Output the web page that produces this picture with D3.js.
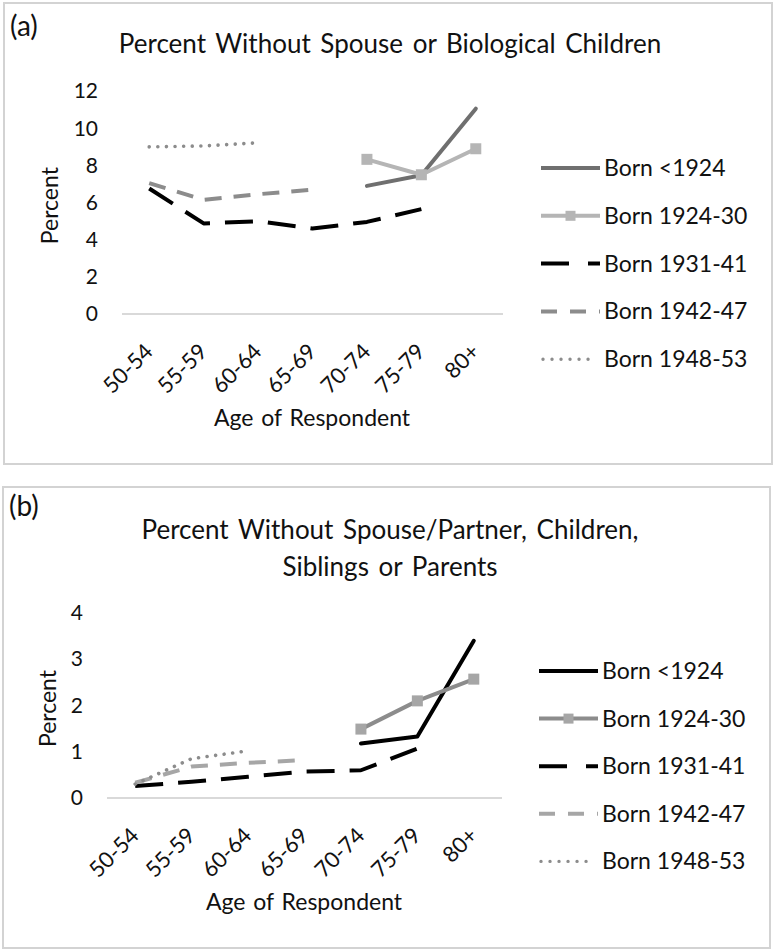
<!DOCTYPE html>
<html>
<head>
<meta charset="utf-8">
<script src="https://cdn.jsdelivr.net/npm/d3@7/dist/d3.min.js"></script>
<style>
  html, body { margin: 0; padding: 0; background: #fff; }
  svg { display: block; }
  text { font-family: Lato, "Open Sans", sans-serif; fill: #111; }
</style>
</head>
<body>
<svg id="chart" width="776" height="951"></svg>
<script>
// ---------- DATA ----------
const ageGroups = ["50-54", "55-59", "60-64", "65-69", "70-74", "75-79", "80+"];
const cohortNames = ["Born <1924", "Born 1924-30", "Born 1931-41", "Born 1942-47", "Born 1948-53"];

const ticksA = [0, 2, 4, 6, 8, 10, 12];
const ticksB = [0, 1, 2, 3, 4];

// Panel (a): Percent without spouse or biological children
const aBornPre1924 = [null, null, null, null, 6.9, 7.47, 11.06];
const aBorn1924_30 = [null, null, null, null, 8.33, 7.5, 8.9];
const aBorn1931_41 = [6.76, 4.88, 5.0, 4.6, 4.96, 5.65, null];
const aBorn1942_47 = [7.05, 6.15, 6.45, 6.7, null, null, null];
const aBorn1948_53 = [9.0, 9.05, 9.22, null, null, null, null];

// Panel (b): Percent without spouse/partner, children, siblings or parents
const bBornPre1924 = [null, null, null, null, 1.18, 1.33, 3.4];
const bBorn1924_30 = [null, null, null, null, 1.49, 2.1, 2.57];
const bBorn1931_41 = [0.26, 0.35, 0.46, 0.57, 0.6, 1.07, null];
const bBorn1942_47 = [0.33, 0.68, 0.76, 0.82, null, null, null];
const bBorn1948_53 = [0.3, 0.85, 1.02, null, null, null, null];

// ---------- STYLES ----------
const stylesA = [
  { color: "#6f6f6f", dash: null, marker: false },
  { color: "#b5b5b5", dash: null, marker: true, markerColor: "#b5b5b5" },
  { color: "#000000", dash: "28,15", marker: false },
  { color: "#8c8c8c", dash: "17,12", marker: false },
  { color: "#8c8c8c", dash: "dot", marker: false }
];
const stylesB = [
  { color: "#000000", dash: null, marker: false },
  { color: "#8c8c8c", dash: null, marker: true, markerColor: "#a6a6a6" },
  { color: "#000000", dash: "28,15", marker: false },
  { color: "#a6a6a6", dash: "17,12", marker: false },
  { color: "#8c8c8c", dash: "dot", marker: false }
];

const svg = d3.select("#chart");

function drawPanel(cfg) {
  const g = svg.append("g");
  // frame
  g.append("rect")
    .attr("x", cfg.frame[0]).attr("y", cfg.frame[1])
    .attr("width", cfg.frame[2]).attr("height", cfg.frame[3])
    .attr("fill", "none").attr("stroke", "#d3d3d3").attr("stroke-width", 2);

  g.append("text").attr("x", cfg.frame[0] + 6).attr("y", cfg.labelY)
    .attr("font-size", 28).text(cfg.label);

  cfg.title.forEach((t, i) => {
    g.append("text").attr("x", 390).attr("y", cfg.titleY + i * cfg.titleGap)
      .attr("text-anchor", "middle").attr("font-size", cfg.titleSize)
      .attr("font-weight", 400)
      .attr("word-spacing", 3)
      .text(t);
  });

  const x = d3.scaleBand().domain(ageGroups).range(cfg.xRange);
  const y = d3.scaleLinear().domain(cfg.yDomain).range(cfg.yRange);
  const cx = d => x(d) + x.bandwidth() / 2;

  // zero gridline
  g.append("line")
    .attr("x1", cfg.xRange[0]).attr("x2", cfg.xRange[1])
    .attr("y1", y(0)).attr("y2", y(0))
    .attr("stroke", "#d9d9d9").attr("stroke-width", 2);

  // y axis labels
  const yAxis = d3.axisLeft(y).tickValues(cfg.ticks).tickFormat(d3.format("d")).tickSize(0).tickPadding(0);
  const ya = g.append("g").attr("transform", `translate(${cfg.yLabelX},0)`).call(yAxis);
  ya.select(".domain").remove();
  ya.selectAll("text").attr("font-size", 21).attr("font-family", "Lato, sans-serif").attr("fill", "#111");

  // x axis labels
  const xAxis = d3.axisBottom(x).tickSize(0).tickPadding(0);
  const xa = g.append("g").attr("transform", `translate(0,${y(0)})`).call(xAxis);
  xa.select(".domain").remove();
  xa.selectAll("text")
    .attr("font-size", 22).attr("font-family", "Lato, sans-serif").attr("fill", "#111")
    .attr("text-anchor", "end")
    .attr("dy", 0).attr("y", 0)
    .attr("transform", "translate(5,39) rotate(-45)");

  // axis titles
  g.append("text")
    .attr("transform", `translate(${cfg.yTitleX},${(cfg.yRange[0] + cfg.yRange[1]) / 2 + 3}) rotate(-90)`)
    .attr("text-anchor", "middle").attr("font-size", 23).attr("dy", "0.35em")
    .text("Percent");
  g.append("text")
    .attr("x", cfg.xTitleX).attr("y", cfg.xTitleY)
    .attr("text-anchor", "middle").attr("font-size", 23).attr("word-spacing", 2)
    .text("Age of Respondent");

  // series
  const line = d3.line()
    .defined(d => d != null)
    .x((d, i) => cx(ageGroups[i]))
    .y(d => y(d));

  cfg.series.forEach((vals, si) => {
    const st = cfg.styles[si];
    const p = g.append("path")
      .attr("d", line(vals))
      .attr("fill", "none")
      .attr("stroke", st.color)
      .attr("stroke-linejoin", "round");
    if (st.dash === "dot") {
      p.attr("stroke-width", 3.6).attr("stroke-dasharray", "0.01,8.6").attr("stroke-linecap", "round");
    } else {
      p.attr("stroke-width", 4).attr("stroke-linecap", st.dash ? "butt" : "round");
      if (st.dash) p.attr("stroke-dasharray", st.dash);
    }
    if (st.marker) {
      g.selectAll(null)
        .data(vals.map((v, i) => ({ v, k: ageGroups[i] })).filter(d => d.v != null))
        .enter().append("rect")
        .attr("x", d => cx(d.k) - 5.5).attr("y", d => y(d.v) - 5.5)
        .attr("width", 11).attr("height", 11)
        .attr("fill", st.markerColor);
    }
  });

  // legend
  const leg = g.append("g");
  cohortNames.forEach((name, i) => {
    const st = cfg.styles[i];
    const ly = cfg.legendY + i * cfg.legendGap;
    const x1 = cfg.legendX, x2 = cfg.legendX + 59;
    const l = leg.append("line")
      .attr("x1", x1).attr("x2", x2).attr("y1", ly).attr("y2", ly)
      .attr("stroke", st.color);
    if (st.dash === "dot") {
      l.attr("x1", x1 + 2).attr("x2", x2 - 3)
        .attr("stroke-width", 3.4).attr("stroke-dasharray", "0.01,9").attr("stroke-linecap", "round");
    } else if (st.dash) {
      l.attr("stroke-width", 4).attr("stroke-dasharray", st.dash === "28,15" ? "28,19" : "16,13");
    } else {
      l.attr("stroke-width", 4);
    }
    if (st.marker) {
      leg.append("rect").attr("x", (x1 + x2) / 2 - 5).attr("y", ly - 5)
        .attr("width", 10).attr("height", 10).attr("fill", st.markerColor);
    }
    leg.append("text").attr("x", x2 + 4).attr("y", ly).attr("dy", "0.35em")
      .attr("font-size", 23).text(name);
  });
}

drawPanel({
  frame: [4, 3, 768, 461],
  label: "(a)", labelY: 36,
  title: ["Percent Without Spouse or Biological Children"], titleY: 53, titleGap: 0, titleSize: 26,
  xRange: [122, 503], yDomain: [0, 12], yRange: [314, 91.2], ticks: ticksA,
  yLabelX: 98, yTitleX: 50, xTitleX: 312, xTitleY: 426,
  series: [aBornPre1924, aBorn1924_30, aBorn1931_41, aBorn1942_47, aBorn1948_53],
  styles: stylesA,
  legendX: 541, legendY: 168, legendGap: 47.8
});

drawPanel({
  frame: [3, 487, 767, 461],
  label: "(b)", labelY: 516,
  title: ["Percent Without Spouse/Partner, Children,", "Siblings or Parents"], titleY: 539, titleGap: 37, titleSize: 26,
  xRange: [107, 502], yDomain: [0, 4], yRange: [798, 613], ticks: ticksB,
  yLabelX: 83, yTitleX: 48, xTitleX: 304, xTitleY: 910,
  series: [bBornPre1924, bBorn1924_30, bBorn1931_41, bBorn1942_47, bBorn1948_53],
  styles: stylesB,
  legendX: 539, legendY: 671, legendGap: 47.6
});
</script>
</body>
</html>
